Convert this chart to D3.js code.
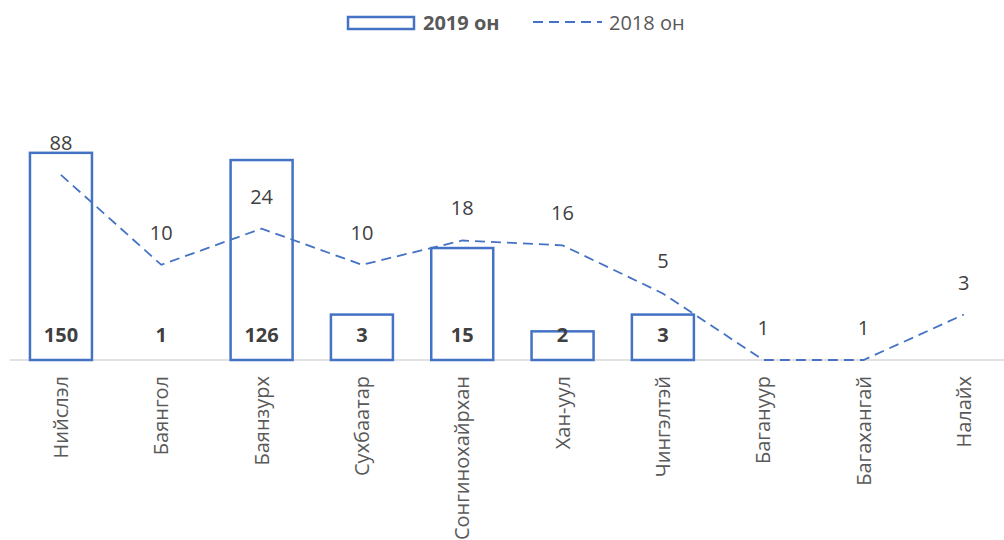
<!DOCTYPE html>
<html><head><meta charset="utf-8">
<script src="https://cdn.jsdelivr.net/npm/d3@7"></script>
<style>body{margin:0;background:#fff}svg{display:block}</style>
</head><body><svg id="c" width="1004" height="540"></svg>
<script>
const categories = ["Нийслэл","Баянгол","Баянзурх","Сухбаатар","Сонгинохайрхан","Хан-уул","Чингэлтэй","Багануур","Багахангай","Налайх"];
const values2019 = [150,1,126,3,15,2,3,null,null,null];
const values2018 = [88,10,24,10,18,16,5,1,1,3];
const seriesNames = ["2019 он","2018 он"];

const FONT = "'Open Sans', sans-serif";
const BLUE = "#4472C4";
const svg = d3.select("#c");

const x = d3.scaleBand().domain(categories).range([10.8, 1014]).paddingInner(0.38).paddingOuter(0.19);
const xc = d => x(d) + x.bandwidth()/2;
const y = d3.scaleLog().domain([1, 1000]).range([360, 74.4]);

// axis line
svg.append("line").attr("x1",10).attr("x2",1004).attr("y1",360).attr("y2",360)
  .attr("stroke","#d9d9d9").attr("stroke-width",1.5);

// bars
const bw = 62;
svg.selectAll("rect.bar").data(categories.map((c,i)=>({c,v:values2019[i]})).filter(d=>d.v!=null && d.v>1))
  .enter().append("rect").attr("class","bar")
  .attr("x", d=>xc(d.c)-bw/2).attr("width", bw)
  .attr("y", d=>y(d.v)).attr("height", d=>360-y(d.v))
  .attr("fill","#fff").attr("stroke",BLUE).attr("stroke-width",2.5);

// line
const pts = categories.map((c,i)=>({c,v:values2018[i]}));
svg.append("path").datum(pts)
  .attr("d", d3.line().x(d=>xc(d.c)).y(d=>y(d.v)))
  .attr("fill","none").attr("stroke",BLUE).attr("stroke-width",1.8).attr("stroke-dasharray","10,6");

// bar labels
svg.selectAll("text.bl").data(categories.map((c,i)=>({c,v:values2019[i]})).filter(d=>d.v!=null))
  .enter().append("text").attr("class","bl")
  .attr("x", d=>xc(d.c)).attr("y", 342)
  .attr("text-anchor","middle").attr("font-family",FONT).attr("font-size",20).attr("font-weight","bold")
  .attr("fill","#404040").text(d=>d.v);

// line labels
svg.selectAll("text.ll").data(pts).enter().append("text").attr("class","ll")
  .attr("x", d=>xc(d.c)).attr("y", d=>y(d.v)-25)
  .attr("text-anchor","middle").attr("font-family",FONT).attr("font-size",20)
  .attr("fill","#404040").text(d=>d.v);

// category labels
svg.selectAll("text.cat").data(categories).enter().append("text").attr("class","cat")
  .attr("transform", d=>`translate(${xc(d)},376) rotate(-90)`)
  .attr("text-anchor","end").attr("dy","0.35em")
  .attr("font-family",FONT).attr("font-size",20).attr("fill","#595959").text(d=>d);

// legend
const lg = svg.append("g");
lg.append("rect").attr("x",348).attr("y",17).attr("width",66).attr("height",12)
  .attr("fill","#fff").attr("stroke",BLUE).attr("stroke-width",2.5);
lg.append("text").attr("x",423).attr("y",30).attr("font-family",FONT).attr("font-size",20)
  .attr("font-weight","bold").attr("fill","#595959").text(seriesNames[0]);
lg.append("line").attr("x1",533).attr("x2",602).attr("y1",22).attr("y2",22)
  .attr("stroke",BLUE).attr("stroke-width",1.8).attr("stroke-dasharray","10,6");
lg.append("text").attr("x",609).attr("y",30).attr("font-family",FONT).attr("font-size",20)
  .attr("fill","#595959").text(seriesNames[1]);
</script></body></html>
